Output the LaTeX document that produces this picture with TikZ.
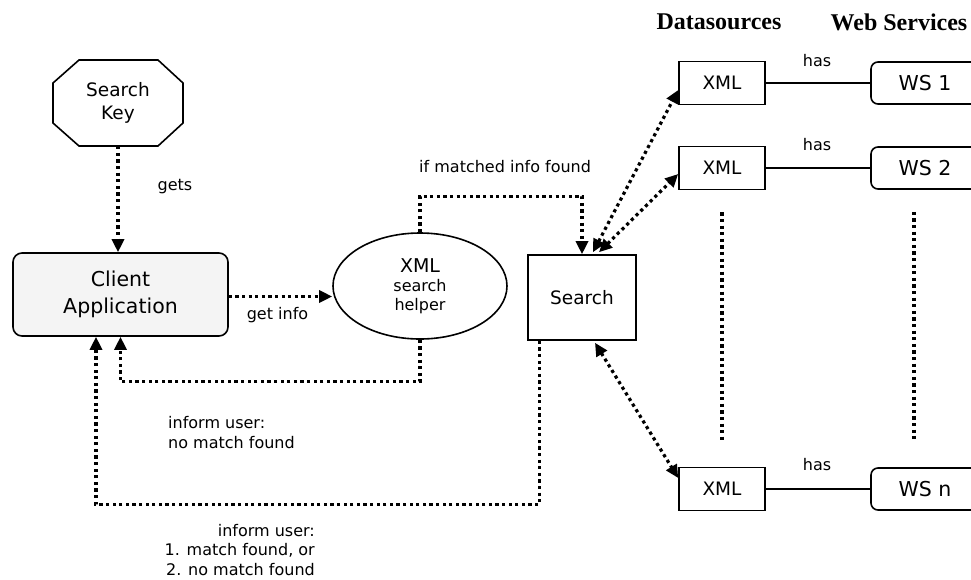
\documentclass[tikz,border=0pt]{standalone}
\usepackage{fontspec}
\setmainfont{DejaVu Sans}
\newfontfamily\headfont{Liberation Serif}
\usetikzlibrary{arrows.meta,shapes.geometric,calc}

\tikzset{
  box/.style={draw, line width=1.6pt, inner sep=0pt, align=center,
    font=\fontsize{18.5}{22}\selectfont},
  wsbox/.style={box, rounded corners=7pt, minimum width=108pt, minimum height=42pt,
    font=\fontsize{20.5}{22}\selectfont},
  xmlbox/.style={box, minimum width=86pt, minimum height=43pt},
  dotline/.style={line width=3.2pt, line cap=butt, dash pattern=on 3.2pt off 3.4pt},
  dotarrow/.style={dotline, -{Triangle[length=13pt,width=12pt]}},
  dotboth/.style={dotline, {Triangle[length=13pt,width=12pt]}-{Triangle[length=13pt,width=12pt]}},
  hasline/.style={line width=1.8pt},
  lbl/.style={inner sep=0pt, font=\fontsize{16}{19.5}\selectfont},
  head/.style={inner sep=0pt, font=\headfont\bfseries\fontsize{24}{26}\selectfont}
}

\begin{document}
\begin{tikzpicture}[x=1pt, y=-1pt]
  \clip (0,0) rectangle (971,579);

  % column headings
  \node[head] (hds) at (719,22) {Datasources};
  \node[head] (hws) at (899,22) {Web Services};

  % search key (octagon outline) and its label
  \draw[line width=1.6pt] (53,83) -- (79,60) -- (158,60) -- (183,83) -- (183,123)
    -- (158,146) -- (79,146) -- (53,123) -- cycle;
  \node[inner sep=0pt, minimum width=130pt, minimum height=86pt, align=center,
    font=\fontsize{18.5}{23}\selectfont] (key) at (118,103) {Search\\Key};

  % client application
  \node[box, rounded corners=9pt, fill=gray!9, minimum width=215pt, minimum height=83pt,
    font=\fontsize{20.5}{27}\selectfont] (client) at (120.5,294.5) {Client\\Application};

  % XML search helper
  \node[draw, line width=1.6pt, ellipse, inner sep=0pt, minimum width=174pt,
    minimum height=106pt, align=center, font=\fontsize{16}{19}\selectfont]
    (helper) at (420,286) {{\fontsize{19}{19}\selectfont XML}\\search\\helper};

  % search
  \node[box, minimum width=108pt, minimum height=85pt] (search) at (582,297.5) {Search};

  % datasources and web services
  \node[xmlbox] (x1) at (722,83) {XML};
  \node[xmlbox] (x2) at (722,168) {XML};
  \node[xmlbox] (xn) at (722,489) {XML};
  \node[wsbox] (w1) at (925,83) {WS 1};
  \node[wsbox] (w2) at (925,168) {WS 2};
  \node[wsbox] (wn) at (925,489) {WS n};

  \draw[hasline] (x1.east) -- (w1.west);
  \draw[hasline] (x2.east) -- (w2.west);
  \draw[hasline] (xn.east) -- (wn.west);
  \node[lbl] (has1) at (817,61) {has};
  \node[lbl] (has2) at (817,145) {has};
  \node[lbl] (hasn) at (817,465) {has};

  % continuation marks between the rows
  \draw[dotline] ($(x2.south)+(0,22)$) -- ($(xn.north)+(0,-26)$);
  \draw[dotline] ($(w2.south)+(-11,22)$) -- ($(wn.north)+(-11,-26)$);

  % key -> client
  \draw[dotarrow] (key.south) -- (key.south |- client.north);
  \node[lbl] (gets) at (175,187) {gets};

  % client -> helper
  \draw[dotarrow] ([yshift=-2pt]client.east) -- ([yshift=-2pt]client.east -| helper.west);
  \node[lbl] (getinfo) at (277.5,315) {get info};

  % helper -> search
  \draw[dotarrow] (helper.north) -- ++(0,-36) -| (search.north);
  \node[lbl, anchor=west] (matched) at (419,167) {if matched info found};

  % helper -> client
  \draw[dotarrow] (helper.south) -- ++(0,42) -| (client.south);
  \node[lbl, anchor=west, align=left] (nomatch) at (168,432.5)
    {inform user:\\no match found};

  % search -> client
  \draw[dotarrow] ([xshift=12pt]search.south west) -- ++(0,164)
    -| ([xshift=-24.5pt]client.south);
  \node[lbl, anchor=east, align=right] (informall) at (315,550)
    {inform user:\\1. match found, or\\2. no match found};

  % search <-> datasources
  \draw[dotboth] ($(search.north)+(11,-2)$) -- ($(x1.west)+(0,7)$);
  \draw[dotboth] ($(search.north)+(17,-2)$) -- ($(x2.west)+(0,6)$);
  \draw[dotboth] ($(search.south)+(13,2)$) -- ($(xn.west)+(0,-11)$);
\end{tikzpicture}
\end{document}
